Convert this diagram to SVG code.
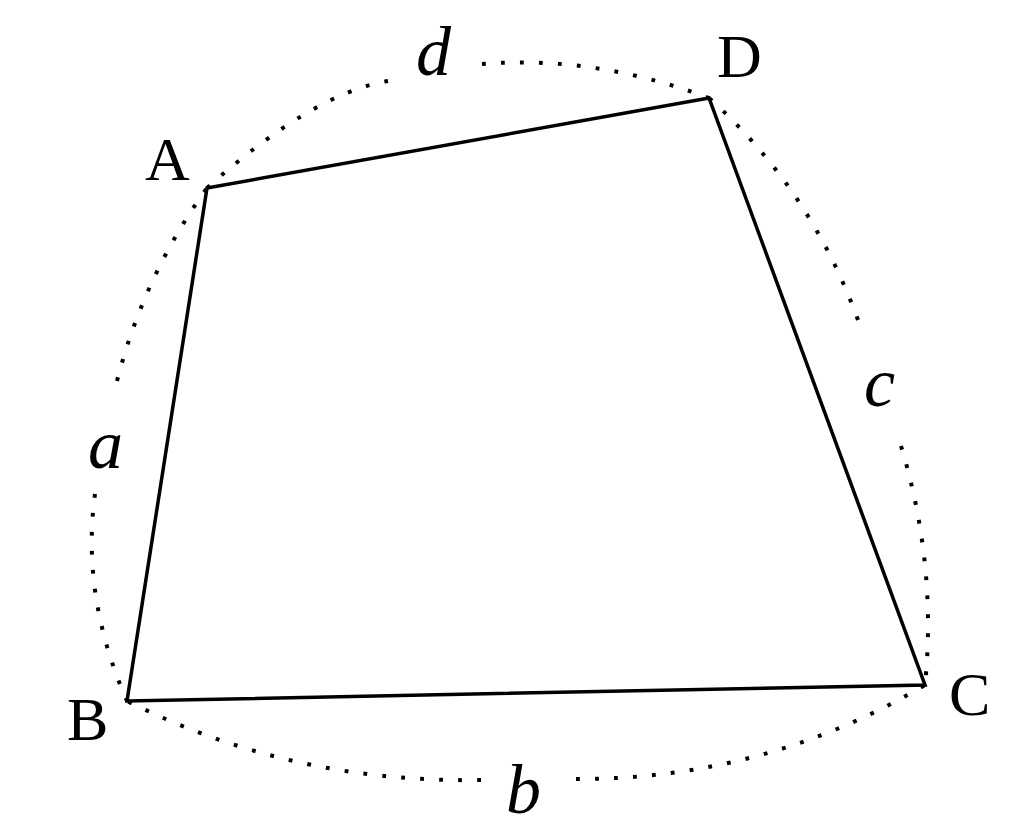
<svg xmlns="http://www.w3.org/2000/svg" width="1024" height="840" viewBox="0 0 1024 840">
<style>
.side{fill:none;stroke:#000;stroke-width:3.5;stroke-linejoin:miter}
.arc{fill:none;stroke:#000;stroke-width:4;stroke-dasharray:3.8 15.2;stroke-linecap:butt}
.vl{font-family:"Liberation Serif","Times New Roman",serif;font-size:62px;fill:#000}
.ml{font-family:"Liberation Serif","Times New Roman",serif;font-style:italic;font-size:70px;fill:#000}
</style>
<rect width="1024" height="840" fill="#fff"/>
<g id="connectors">
<path class="arc" d="M 388 81 Q 312.5 93.5 207 188"/>
<path class="arc" d="M 482 64 Q 594.5 55 709 98"/>
<path class="arc" d="M 117 381 Q 144 275.5 207 188"/>
<path class="arc" d="M 95 494 Q 81 596.5 127 701"/>
<path class="arc" d="M 858 320 Q 810.5 189 709 98"/>
<path class="arc" d="M 901 446 Q 937 564.5 925 685"/>
<path class="arc" d="M 481 780 Q 292 783.5 127 701"/>
<path class="arc" d="M 576 779 Q 765.5 779.4 925 685"/>
</g>
<g id="quadrilateral">
<polygon class="side" points="207,188 709,98 925,685 127,701"/>
</g>
<g id="A"><text class="vl" x="145" y="180">A</text></g>
<g id="B"><text class="vl" x="67" y="740">B</text></g>
<g id="C"><text class="vl" x="949" y="715">C</text></g>
<g id="D"><text class="vl" x="717" y="77">D</text></g>
<g id="label-a"><text class="ml" x="88" y="468">a</text></g>
<g id="label-b"><text class="ml" x="506" y="813">b</text></g>
<g id="label-c"><text class="ml" x="864" y="406">c</text></g>
<g id="label-d"><text class="ml" x="416" y="75">d</text></g>
</svg>
